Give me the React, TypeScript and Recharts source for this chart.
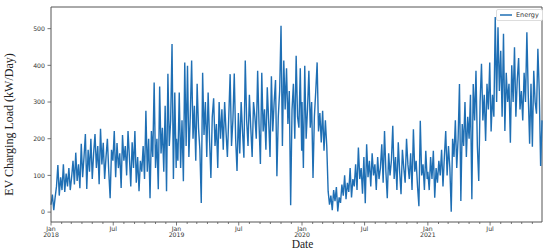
import React from 'react'
import {
  LineChart,
  Line,
  XAxis,
  YAxis,
  Legend,
  ReferenceLine
} from 'recharts'

// daily EV charging load, every 4th day from Jan 1 of each year
const load2018 = [
  20, 48, 5, 40, 70, 128, 45, 95, 60, 130,
  55, 105, 70, 120, 60, 95, 140, 75, 162, 85,
  130, 65, 186, 95, 150, 213, 63, 170, 110, 200,
  90, 160, 213, 120, 180, 76, 227, 130, 189, 90,
  150, 200, 110, 38, 170, 140, 221, 95, 188, 120,
  160, 66, 210, 140, 180, 100, 221, 150, 70, 190,
  120, 221, 80, 150, 57, 140, 110, 180, 90, 276,
  110, 200, 38, 221, 150, 353, 120, 200, 62, 342,
  160, 230, 110, 290, 57, 377, 180, 250, 458, 90,
  326, 120
]
const load2019 = [
  200, 140, 326, 120, 250, 84, 408, 180, 399, 150,
  260, 413, 200, 290, 140, 350, 230, 170, 25, 380,
  210, 300, 150, 326, 200, 93, 260, 310, 180, 240,
  120, 300, 200, 280, 170, 300, 220, 150, 260, 376,
  180, 250, 378, 200, 112, 270, 160, 300, 220, 148,
  413, 250, 180, 320, 230, 150, 300, 260, 200, 385,
  240, 131, 380, 220, 280, 170, 340, 250, 150, 370,
  220, 300, 360, 98, 260, 330, 508, 180, 413, 280,
  392, 240, 330, 19, 280, 350, 200, 426, 260, 230,
  392, 167
]
const load2020 = [
  300, 120, 399, 200, 280, 385, 230, 300, 93, 260,
  330, 408, 220, 270, 190, 276, 167, 250, 180, 57,
  20, 45, 5, 60, 30, 68, 2, 40, 25, 75,
  45, 100, 35, 80, 55, 120, 40, 90, 70, 130,
  60, 176, 90, 120, 50, 150, 24, 185, 95, 140,
  70, 160, 100, 130, 60, 150, 90, 120, 185, 80,
  221, 110, 38, 160, 100, 140, 235, 90, 150, 60,
  190, 110, 49, 170, 120, 80, 200, 130, 90, 160,
  60, 226, 110, 140, 70, 16, 249, 100, 130, 60,
  167, 90
]
const load2021 = [
  110, 60, 150, 90, 167, 39, 120, 80, 140, 100,
  170, 70, 150, 221, 100, 180, 120, 1, 200, 150,
  250, 120, 200, 349, 30, 240, 180, 300, 150, 260,
  200, 320, 35, 349, 250, 385, 180, 85, 300, 404,
  250, 320, 194, 350, 280, 408, 220, 320, 260, 532,
  300, 504, 330, 440, 260, 486, 221, 380, 300, 350,
  189, 400, 300, 449, 260, 360, 420, 280, 330, 250,
  380, 300, 490, 320, 186, 350, 178, 385, 300, 268,
  445, 330, 126, 250
]

const years = [2018, 2019, 2020, 2021]
const loads = [load2018, load2019, load2020, load2021]
const stepDays = 4
const yTicks = [0, 100, 200, 300, 400, 500]
const yDomain = [-27, 559]
const monthNames = ['Jan', 'Feb', 'Mar', 'Apr', 'May', 'Jun', 'Jul', 'Aug', 'Sep', 'Oct', 'Nov', 'Dec']

const DAY = 86400000
const lineColor = '#1f6fb4'
const axisColor = '#555'
const tickFont = 'DejaVu Sans'

const data: { date: number; Energy: number }[] = []
years.forEach((year, k) => {
  const start = Date.UTC(year, 0, 1)
  loads[k].forEach((v, i) => data.push({ date: start + i * stepDays * DAY, Energy: v }))
})
const firstDate = data[0].date
const lastDate = data[data.length - 1].date

const monthTicks: number[] = []
years.forEach(year => {
  for (let m = 0; m < 12; m++) {
    const t = Date.UTC(year, m, 1)
    if (t >= firstDate && t <= lastDate) monthTicks.push(t)
  }
})

const DateTick = (props: any) => {
  const { x, y, payload } = props
  const d = new Date(payload.value)
  const m = d.getUTCMonth()
  const major = m === 0 || m === 6
  return (
    <g>
      <line x1={x} x2={x} y1={y} y2={y + (major ? 3.5 : 2)} stroke={axisColor} strokeWidth={0.8} />
      {major && (
        <text x={x} y={y + 8.5} textAnchor='middle' fontSize={6.2} fill='#333' fontFamily={tickFont}>
          <tspan x={x}>{monthNames[m]}</tspan>
          {m === 0 && <tspan x={x} dy={6.5}>{d.getUTCFullYear()}</tspan>}
        </text>
      )}
    </g>
  )
}

const LoadTick = (props: any) => {
  const { x, y, payload } = props
  return (
    <g>
      <line x1={x} x2={x - 3.5} y1={y} y2={y} stroke={axisColor} strokeWidth={0.8} />
      <text x={x - 6} y={y + 2.2} textAnchor='end' fontSize={6.2} fill='#333' fontFamily={tickFont}>
        {payload.value}
      </text>
    </g>
  )
}

const EnergyLegend = () => (
  <div
    style={{
      display: 'flex',
      alignItems: 'center',
      border: '1px solid #ddd',
      borderRadius: 2,
      padding: '1px 3px',
      background: '#fff',
      fontFamily: tickFont,
      fontSize: 6.5,
      color: '#333'
    }}
  >
    <svg width={12} height={4}>
      <line x1={0} x2={12} y1={2} y2={2} stroke={lineColor} strokeWidth={1.5} />
    </svg>
    <span style={{ marginLeft: 4 }}>Energy</span>
  </div>
)

export default function App() {
  return (
    <div style={{ position: 'absolute', left: 0, top: 0 }}>
      <LineChart
        width={550}
        height={250}
        data={data}
        margin={{ top: 7, right: 8, left: 0, bottom: 0 }}
      >
        <XAxis
          dataKey='date'
          type='number'
          domain={['dataMin', 'dataMax']}
          ticks={monthTicks}
          interval={0}
          height={28}
          tickSize={0}
          tickMargin={0}
          tickLine={false}
          tick={<DateTick />}
          stroke={axisColor}
          label={{
            value: 'Date',
            position: 'insideBottom',
            offset: 2,
            dx: 6,
            fontSize: 11.5,
            fill: '#222',
            fontFamily: 'Liberation Serif'
          }}
        />
        <YAxis
          type='number'
          domain={yDomain}
          ticks={yTicks}
          interval={0}
          width={51}
          tickSize={0}
          tickMargin={0}
          tickLine={false}
          tick={<LoadTick />}
          stroke={axisColor}
          label={{
            value: 'EV Charging Load (kW/Day)',
            angle: -90,
            position: 'insideLeft',
            offset: 9,
            dy: 10,
            fontSize: 12,
            fill: '#222',
            fontFamily: 'Liberation Serif',
            textAnchor: 'middle'
          }}
        />
        <ReferenceLine y={yDomain[1]} stroke={axisColor} strokeWidth={1} />
        <ReferenceLine x={lastDate} stroke={axisColor} strokeWidth={1} />
        <Legend
          layout='vertical'
          align='center'
          verticalAlign='middle'
          content={<EnergyLegend />}
          wrapperStyle={{ left: 496, top: 9, width: 'auto', height: 'auto' }}
        />
        <Line
          type='linear'
          dataKey='Energy'
          stroke={lineColor}
          strokeWidth={1.4}
          dot={false}
          isAnimationActive={false}
        />
      </LineChart>
    </div>
  )
}
